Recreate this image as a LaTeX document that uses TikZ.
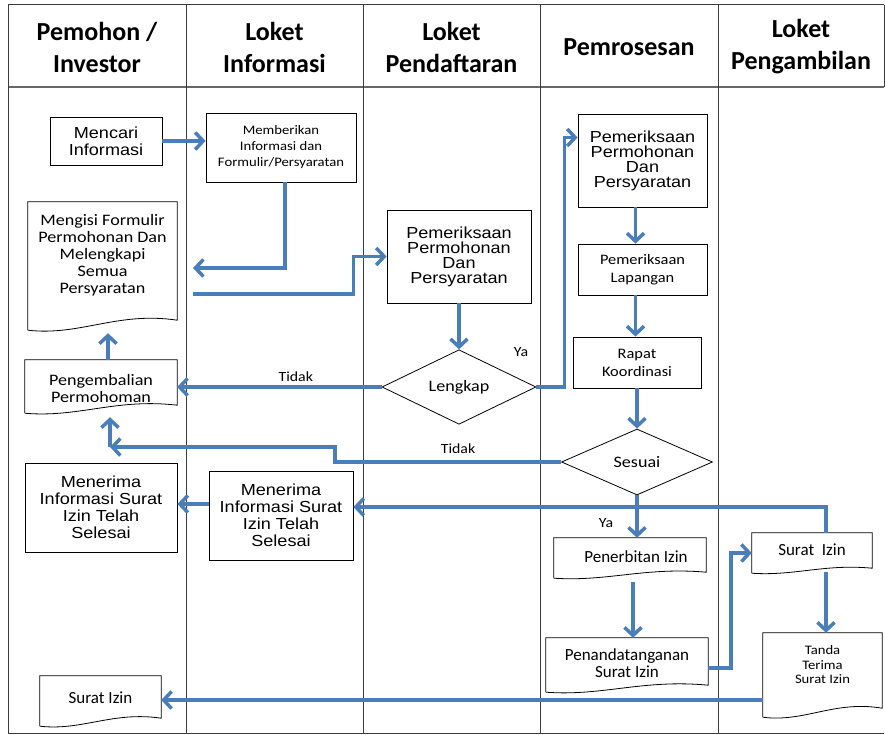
\documentclass[tikz,border=0pt]{standalone}
\usepackage{fontspec}
\setmainfont{Carlito}
\newfontfamily\calfont[FakeStretch=1.13]{Carlito}
\newfontfamily\arifont[FakeStretch=1.13]{Liberation Sans}
\usetikzlibrary{arrows.meta,shapes.geometric,calc}
\definecolor{flowblue}{RGB}{74,126,187}
\definecolor{framegray}{RGB}{60,60,60}
\tikzset{
  boxline/.style={draw=black, line width=0.8pt},
  box/.style={boxline, rectangle, align=center, inner sep=0pt},
  docbox/.style={rectangle, align=center, inner sep=0pt},
  decision/.style={boxline, diamond, align=center, inner sep=0pt},
  hdr/.style={align=center, font=\fontsize{26}{32}\selectfont\bfseries},
  lbl/.style={inner sep=1pt, font=\calfont\fontsize{14}{16}\selectfont},
  arr/.style={draw=flowblue, line width=3.5pt, -{Straight Barb[length=8pt,width=17pt]}},
  lane/.style={draw=framegray, line width=1pt},
  headline/.style={draw=gray!80!black, line width=2pt}
}
\newcommand\docoutline[3]{%
  \draw[boxline] ($(#1.south west)+(0,#2+#3)$) -- (#1.north west) -- (#1.north east) -- ($(#1.south east)+(0,#2)$)
   .. controls ($(#1.south west)!0.6!(#1.south east)+(0,#2-0.9*#3)$) and ($(#1.south west)!0.35!(#1.south east)+(0,#2+1.6*#3)$) .. ($(#1.south west)+(0,#2+#3)$);}
\begin{document}
\begin{tikzpicture}[x=1pt,y=-1pt]
\useasboundingbox (0,0) rectangle (885,735);
% frame
\draw[lane] (8,5) -- (884,5);
\draw[headline] (8,87) -- (884,87);
\draw[lane] (884,5) -- (884,87);
\draw[lane] (8,733) -- (884,733);
\foreach \xx in {8,186,363,540,718} {\draw[lane] (\xx,5) -- (\xx,733);}
% headers
\node[hdr] (h1) at (97,47) {Pemohon /\\Investor};
\node[hdr] (h2) at (274.5,47) {Loket\\Informasi};
\node[hdr] (h3) at (451.5,47) {Loket\\Pendaftaran};
\node[hdr] (h4) at (629,47) {Pemrosesan};
\node[hdr] (h5) at (801,47) {Loket\\Pengambilan};
% lane 1
\node[box, minimum width=112pt, minimum height=48pt, font=\arifont\fontsize{16}{17}\selectfont] (mencari) at (106,141) {Mencari\\Informasi};
\node[docbox, minimum width=149pt, minimum height=107pt, font=\calfont\fontsize{16}{17}\selectfont] (mengisi) at (102.5,255.5) {Mengisi Formulir\\Permohonan Dan\\Melengkapi\\Semua\\Persyaratan};
\docoutline{mengisi}{11}{10}
\node[docbox, minimum width=152pt, minimum height=57pt, font=\calfont\fontsize{16}{17}\selectfont] (pengembalian) at (101,388.5) {Pengembalian\\Permohoman};
\docoutline{pengembalian}{-12}{8}
\node[box, minimum width=152pt, minimum height=89pt, font=\arifont\fontsize{16}{17}\selectfont] (menerimaL) at (101,507.5) {Menerima\\Informasi Surat\\Izin Telah\\Selesai};
\node[docbox, minimum width=121pt, minimum height=44pt, font=\fontsize{17}{18}\selectfont] (suratL) at (100.5,698) {Surat Izin};
\docoutline{suratL}{-2}{8}
% lane 2
\node[box, minimum width=150pt, minimum height=69pt, font=\calfont\fontsize{13}{16}\selectfont] (memberi) at (281,147.5) {Memberikan\\Informasi dan\\Formulir/Persyaratan};
\node[box, minimum width=144pt, minimum height=89pt, font=\arifont\fontsize{16}{17}\selectfont] (menerimaM) at (281,515.5) {Menerima\\Informasi Surat\\Izin Telah\\Selesai};
% lane 3
\node[box, minimum width=144pt, minimum height=93pt, font=\arifont\fontsize{16}{15}\selectfont] (pemD) at (459,256.5) {Pemeriksaan\\Permohonan\\Dan\\Persyaratan};
\node[decision, minimum width=154pt, minimum height=68pt, font=\calfont\fontsize{16}{18}\selectfont] (lengkap) at (459,387) {Lengkap};
% lane 4
\node[box, minimum width=129pt, minimum height=93pt, font=\arifont\fontsize{16}{15}\selectfont] (pemP) at (642.5,160.5) {Pemeriksaan\\Permohonan\\Dan\\Persyaratan};
\node[box, minimum width=129pt, minimum height=51pt, font=\calfont\fontsize{14.5}{18}\selectfont] (lapangan) at (642.5,269.5) {Pemeriksaan\\Lapangan};
\node[box, minimum width=128pt, minimum height=51pt, font=\calfont\fontsize{14.5}{18}\selectfont] (rapat) at (637,362.5) {Rapat\\Koordinasi};
\node[decision, minimum width=151pt, minimum height=66pt, font=\calfont\fontsize{16}{18}\selectfont] (sesuai) at (637,462) {Sesuai};
\node[docbox, minimum width=152pt, minimum height=38pt, font=\fontsize{17}{18}\selectfont] (penerbitan) at (630,557) {\hspace*{12pt}Penerbitan Izin};
\docoutline{penerbitan}{-4}{6}
\node[docbox, minimum width=162pt, minimum height=50pt, font=\fontsize{17}{17}\selectfont] (penanda) at (627,663) {Penandatanganan\\Surat Izin};
\docoutline{penanda}{-3}{7}
% lane 5
\node[docbox, minimum width=120pt, minimum height=34pt, font=\fontsize{17}{18}\selectfont] (suratR) at (812,550) {Surat\ \ Izin};
\docoutline{suratR}{1}{5}
\node[docbox, minimum width=119pt, minimum height=64pt, font=\calfont\fontsize{13}{14.5}\selectfont] (tanda) at (822.5,665) {Tanda\\Terima\\Surat Izin};
\docoutline{tanda}{11}{9}
% labels
\node[lbl] (ya1) at (521,352) {Ya};
\node[lbl] (tidak2) at (458,449) {Tidak};
\node[lbl] (ya2) at (606,523) {Ya};
% connectors
\draw[arr] (mencari.east) -- (mencari.east -| memberi.west);
\coordinate (bEnd) at (193,268);
\draw[arr] ([xshift=4pt]memberi.south) |- (bEnd);
\coordinate (cStart) at (193,294);
\draw[arr] (cStart) -| ([xshift=-33pt]pemD.west) -- (pemD.west);
\draw[arr] (pemD.south) -- (lengkap.north);
\draw[arr] (lengkap.west) -- node[lbl, pos=0.42, above=3pt] (tidak1) {Tidak} (lengkap.west -| pengembalian.east);
\draw[arr] (lengkap.east) -- ++(28,0) |- ([yshift=23pt]pemP.west);
\draw[arr] ([xshift=-7pt]pemP.south) -- ([xshift=-7pt]lapangan.north);
\draw[arr] ([xshift=-7pt]lapangan.south) coordinate (hS) -- (hS |- rapat.north);
\draw[arr] (rapat.south) -- (sesuai.north);
\coordinate (jc) at (110,447);
\draw[arr] (sesuai.west) -| ([xshift=225pt]jc) -- (jc);
\draw[arr] (jc) -- (jc |- pengembalian.south);
\coordinate (kEnd) at ([yshift=-24pt]mengisi.south);
\draw[arr] ([xshift=7pt]pengembalian.north) coordinate (kS) -- (kS |- kEnd);
\draw[arr] (sesuai.south) -- (sesuai.south |- penerbitan.north);
\draw[arr] ([xshift=14pt]suratR.north) |- ([yshift=8.5pt]menerimaM.east);
\coordinate (nEnd) at ([yshift=3.5pt]menerimaL.east);
\draw[arr] (menerimaM.west |- nEnd) -- (nEnd);
\draw[arr] ([xshift=3pt,yshift=-6pt]penerbitan.south) coordinate (oS) -- (oS |- penanda.north);
\coordinate (pE) at ([yshift=-3pt]suratR.west);
\draw[arr] ([yshift=-5pt]penanda.east) -| ([xshift=-21pt]pE) -- (pE);
\draw[arr] ([xshift=14pt,yshift=-5pt]suratR.south) coordinate (qS) -- (qS |- tanda.north);
\coordinate (rS) at ([yshift=-35pt]tanda.west);
\draw[arr] (rS) -- (rS -| suratL.east);
\end{tikzpicture}
\end{document}
